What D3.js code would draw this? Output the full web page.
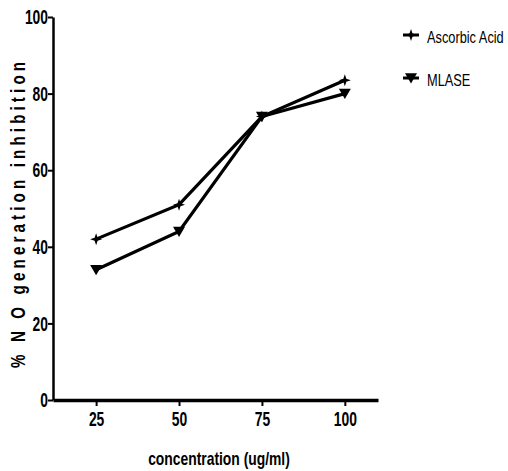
<!DOCTYPE html>
<html>
<head>
<meta charset="utf-8">
<script src="https://cdn.jsdelivr.net/npm/d3@7"></script>
<style>
  body { margin: 0; background: #fff; }
  svg text { font-family: "Liberation Sans Narrow", "Liberation Sans", Arial, sans-serif; fill: #000; }
</style>
</head>
<body>
<svg id="chart" width="508" height="471"></svg>
<script>
//  data
const concentrations = [25, 50, 75, 100];
const ascorbic = [42, 51, 74, 83.5];
const mlase = [34, 44, 74, 80];
const y_ticks = [0, 20, 40, 60, 80, 100];
const series = [
  {name: "Ascorbic Acid", values: ascorbic, symbol: "star"},
  {name: "MLASE", values: mlase, symbol: "tri"}
];

//  squeeze text horizontally (the original uses a narrow font)
function condense(sel, sx) {
  sel.each(function() {
    const t = d3.select(this);
    const x0 = +(t.attr("x") || 0);
    t.attr("x", x0 / sx).attr("transform", `scale(${sx},1)`);
  });
}

//  draw
function draw_chart() {
  const margin = ({top: 17, right: 130, bottom: 71, left: 53});
  const svg = d3.select("#chart");
  const w = +svg.attr("width");
  const h = +svg.attr("height");

  const x = d3.scaleLinear().domain([12, 110]).range([margin.left, w - margin.right]);
  const y = d3.scaleLinear().domain([0, 100]).range([h - margin.bottom, margin.top]);

  const xAxis = g => g
    .attr("transform", `translate(0,${h - margin.bottom})`)
    .call(d3.axisBottom(x).tickValues(concentrations).tickSize(6).tickSizeOuter(0))
    .call(g => g.select(".domain").attr("stroke-width", 3.5))
    .call(g => g.selectAll(".tick line").attr("stroke-width", 2))
    .call(g => g.selectAll(".tick text").attr("y", 11).attr("dy", "0.71em")
      .attr("font-size", 21).attr("font-weight", "bold").call(condense, 0.66));

  const yAxis = g => g
    .attr("transform", `translate(${margin.left},0)`)
    .call(d3.axisLeft(y).tickValues(y_ticks).tickSize(5).tickSizeOuter(0))
    .call(g => g.select(".domain").attr("stroke-width", 2.5))
    .call(g => g.selectAll(".tick line").attr("stroke-width", 2))
    .call(g => g.selectAll(".tick text").attr("x", -5)
      .attr("font-size", 21).attr("font-weight", "bold").call(condense, 0.66));

  svg.append("g").call(xAxis);
  svg.append("g").call(yAxis);

  svg.append("text")
    .attr("x", 219)
    .attr("y", h - 6)
    .attr("text-anchor", "middle")
    .attr("font-size", 19)
    .attr("font-weight", "bold")
    .text("concentration (ug/ml)")
    .call(condense, 0.73);

  svg.append("text")
    .attr("transform", `translate(25,215) rotate(-90) scale(0.72,1)`)
    .attr("text-anchor", "middle")
    .attr("font-size", 21)
    .attr("font-weight", "bold")
    .attr("textLength", 425)
    .attr("lengthAdjust", "spacing")
    .text("% N O  generation inhibition");

  const line = d3.line()
    .x((d, i) => x(concentrations[i]))
    .y(d => y(d));

  const symbolPath = (s, size) => s == "tri"
    ? `M${-size},${-size * 0.8}L${size},${-size * 0.8}L0,${size * 0.9}Z`
    : `M0,${-size}L${size * 0.25},${-size * 0.25}L${size},0L${size * 0.25},${size * 0.25}L0,${size}L${-size * 0.25},${size * 0.25}L${-size},0L${-size * 0.25},${-size * 0.25}Z`;

  series.forEach(s => {
    svg.append("path")
      .datum(s.values)
      .attr("fill", "none")
      .attr("stroke", "#000")
      .attr("stroke-width", 3.2)
      .attr("d", line);

    svg.append("g").selectAll("path")
      .data(s.values)
      .join("path")
      .attr("transform", (d, i) => `translate(${x(concentrations[i])},${y(d)})`)
      .attr("fill", "#000")
      .attr("d", symbolPath(s.symbol, 6));
  });

  //  legend
  const legend = svg.append("g").attr("transform", "translate(411,35)");
  series.forEach((s, i) => {
    const g = legend.append("g").attr("transform", `translate(0,${i * 43})`);
    g.append("line").attr("x1", -8).attr("x2", 8).attr("stroke", "#000").attr("stroke-width", 3);
    g.append("path").attr("fill", "#000").attr("d", symbolPath(s.symbol, 6));
    g.append("text")
      .attr("x", 16)
      .attr("y", 2)
      .attr("dy", "0.35em")
      .attr("font-size", 16)
      .text(s.name)
      .call(condense, 0.8);
  });
}

draw_chart();
</script>
</body>
</html>
